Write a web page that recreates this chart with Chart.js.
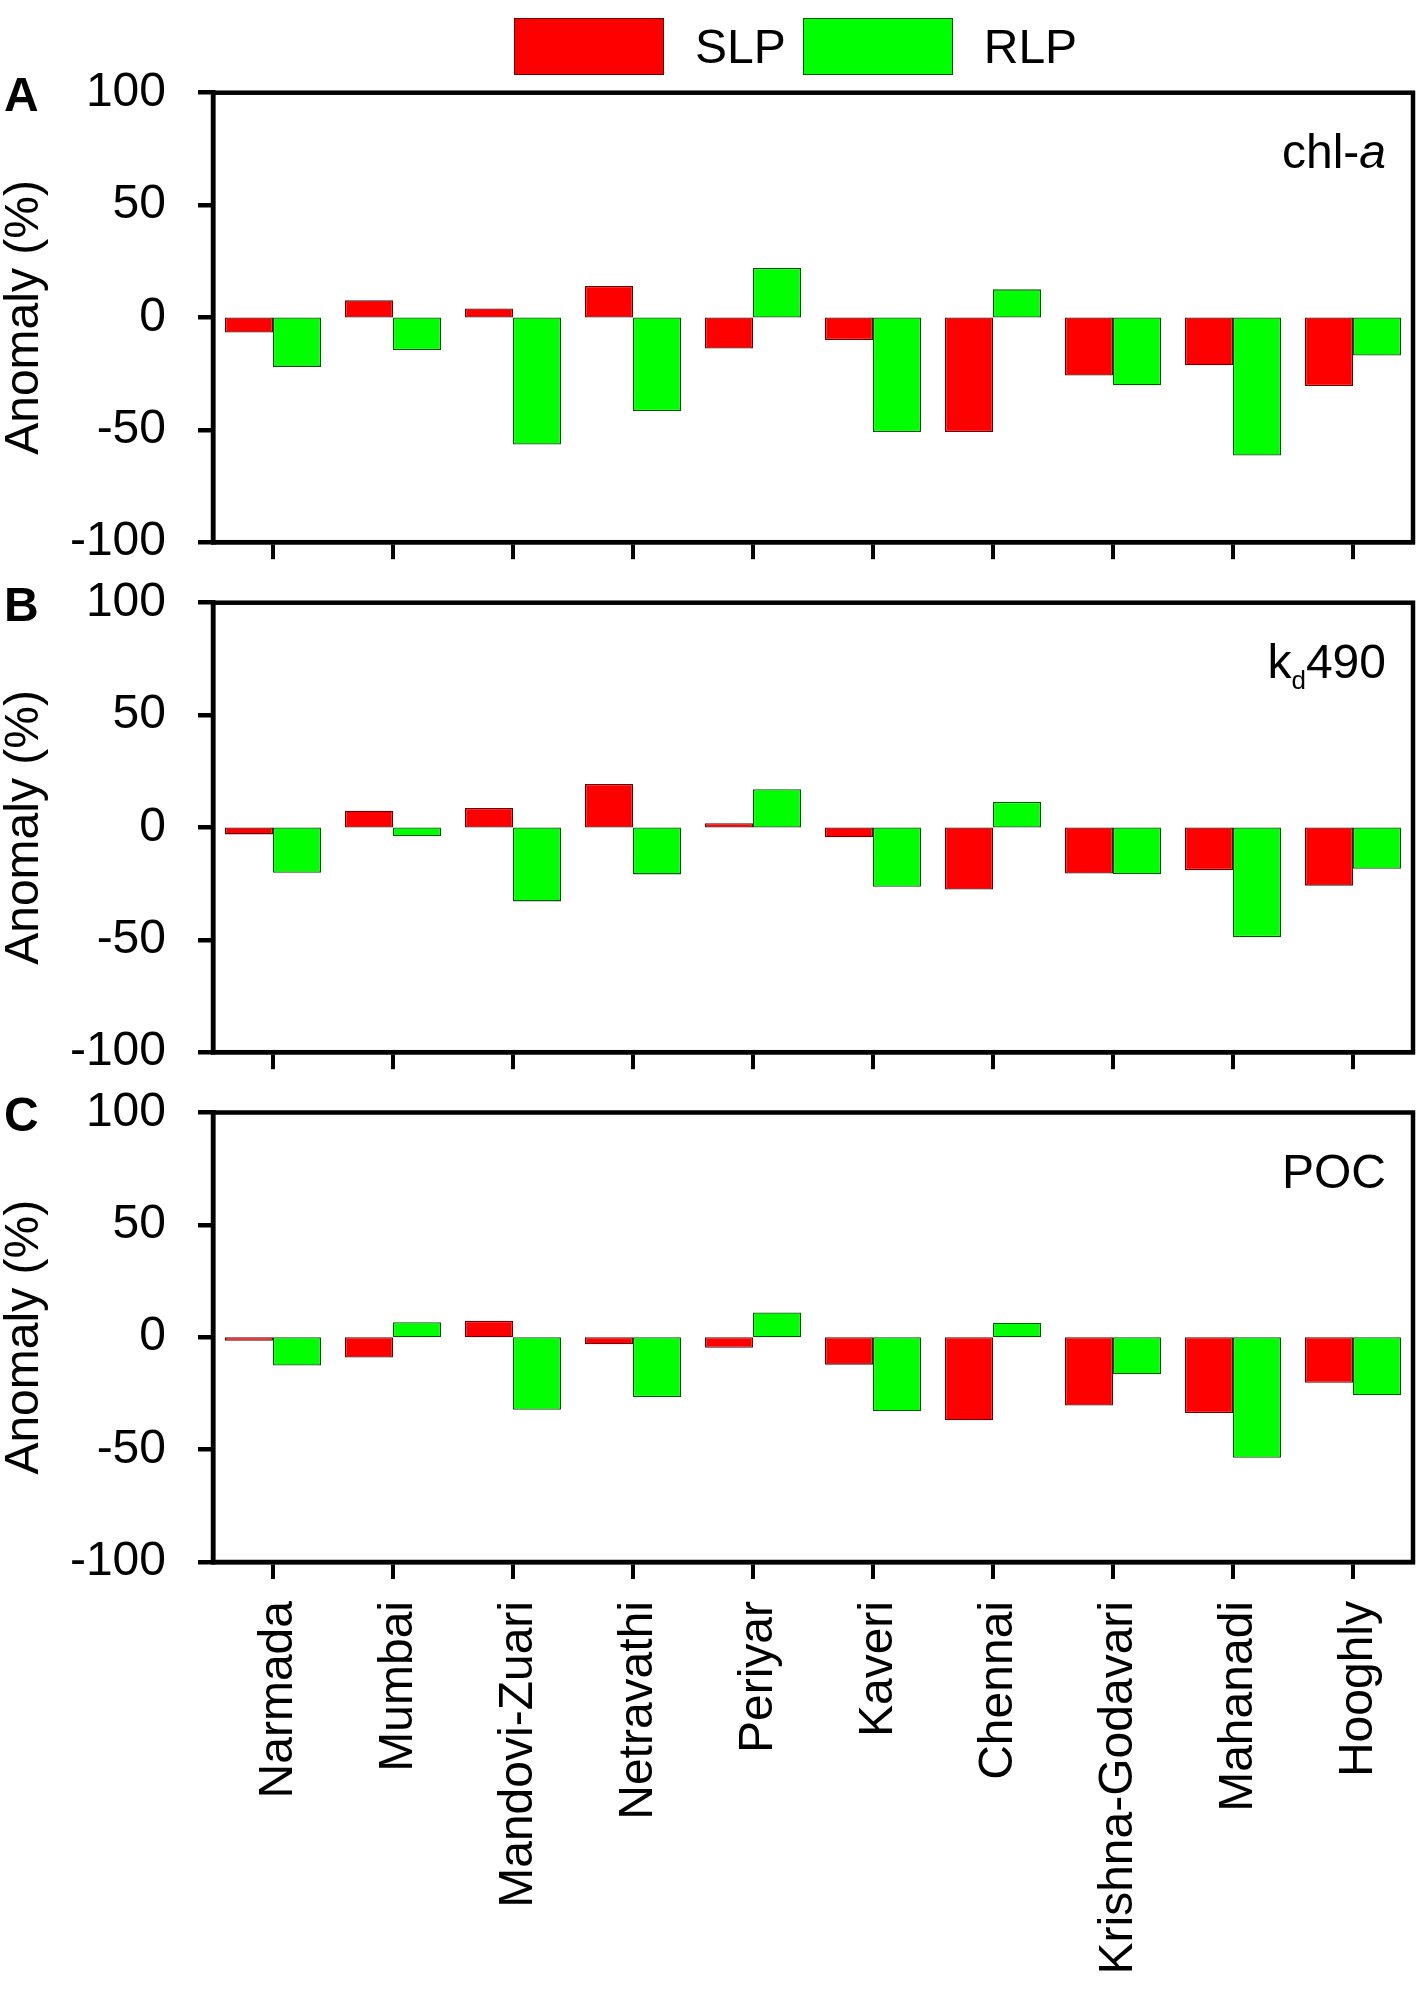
<!DOCTYPE html>
<html><head><meta charset="utf-8">
<script src="https://cdn.jsdelivr.net/npm/chart.js@4.4.1/dist/chart.umd.min.js"></script>
<style>
html,body{margin:0;padding:0;background:#fff;}
#wrap{position:relative;width:1422px;height:2005px;overflow:hidden;background:#fff;font-family:"Liberation Sans",Arial,sans-serif;}
canvas{position:absolute;left:0;}
#legend{position:absolute;left:514px;top:18px;display:flex;align-items:center;z-index:2;}
.item{display:flex;align-items:center;margin-right:17px;}
.box{display:block;width:150px;height:57px;box-sizing:border-box;border:1.5px solid;}
.lbl{margin-left:31px;font-size:48px;line-height:57px;color:#000;}
</style></head>
<body><div id="wrap">
<div id="legend"></div>
<canvas id="cA" width="1422" height="580" style="top:0px"></canvas>
<canvas id="cB" width="1422" height="520" style="top:560px"></canvas>
<canvas id="cC" width="1422" height="935" style="top:1070px"></canvas>
</div>
<script>
// ---- data ----
const categories = ['Narmada','Mumbai','Mandovi-Zuari','Netravathi','Periyar','Kaveri','Chennai','Krishna-Godavari','Mahanadi','Hooghly'];
const seriesNames = ['SLP','RLP'];
const chlSLP = [-6.7, 7.6, 4.0, 14.0, -13.8, -10.0, -51.0, -25.8, -21.3, -30.5];
const chlRLP = [-22.0, -14.5, -56.5, -41.7, 22.0, -51.0, 12.5, -30.2, -61.4, -16.9];
const kdSLP  = [-3.1, 7.4, 8.7, 19.3, 1.9, -4.4, -27.6, -20.5, -19.0, -25.9];
const kdRLP  = [-20.2, -3.9, -32.9, -20.9, 17.0, -26.4, 11.4, -20.8, -48.8, -18.4];
const pocSLP = [-1.6, -9.0, 7.3, -3.1, -4.7, -12.2, -36.9, -30.4, -33.7, -20.3];
const pocRLP = [-12.6, 6.7, -32.3, -26.6, 11.0, -32.9, 6.5, -16.5, -53.6, -25.8];
const yTickStep = 25;
const yMin = -100, yMax = 100;
const yAxisTitle = 'Anomaly (%)';

// ---- styles ----
const FONT = '"Liberation Sans", Arial, sans-serif';
Chart.defaults.font.family = FONT;
Chart.defaults.color = '#000';
const RED = '#ff0000', RED_B = '#6a0000';
const GREEN = '#00ff00', GREEN_B = '#005a00';
// baseline just off the 0 tick so Chart.js does not shift bar bases by half the tick-line width
const BAR_BASE = 1e-9;

const framePlugin = {
  id: 'frame',
  afterDatasetsDraw(chart) {
    const {ctx, chartArea: a} = chart;
    ctx.save();
    ctx.strokeStyle = '#000';
    ctx.lineWidth = 4.5;
    ctx.strokeRect(a.left, a.top, a.right - a.left, a.bottom - a.top);
    ctx.restore();
  }
};

const panelTextPlugin = {
  id: 'panelText',
  afterDraw(chart, args, opts) {
    const {ctx, chartArea: a} = chart;
    ctx.save();
    ctx.fillStyle = '#000';
    ctx.font = 'bold 48px ' + FONT;
    ctx.textAlign = 'left';
    ctx.textBaseline = 'alphabetic';
    ctx.fillText(opts.letter, 4, a.top + 18);
    let x = a.right - 27;
    const y = a.top + 75;
    ctx.textAlign = 'right';
    for (let i = opts.parts.length - 1; i >= 0; i--) {
      const p = opts.parts[i];
      ctx.font = p.font;
      ctx.fillText(p.text, x, y + (p.dy || 0));
      x -= ctx.measureText(p.text).width;
    }
    ctx.restore();
  }
};

const htmlLegendPlugin = {
  id: 'htmlLegend',
  afterUpdate(chart) {
    const el = document.getElementById('legend');
    el.innerHTML = '';
    const items = Chart.defaults.plugins.legend.labels.generateLabels(chart);
    items.forEach(it => {
      const d = document.createElement('div'); d.className = 'item';
      const b = document.createElement('span'); b.className = 'box';
      b.style.background = it.fillStyle; b.style.borderColor = it.strokeStyle;
      const t = document.createElement('span'); t.className = 'lbl'; t.textContent = it.text;
      d.append(b, t); el.append(d);
    });
  }
};

function makeChart(id, slp, rlp, o) {
  const plugins = [framePlugin, panelTextPlugin];
  if (o.htmlLegend) plugins.push(htmlLegendPlugin);
  return new Chart(document.getElementById(id), {
    type: 'bar',
    data: {
      labels: categories,
      datasets: [
        {label: seriesNames[0], data: slp, backgroundColor: RED, borderColor: RED_B, borderWidth: 1.3, borderSkipped: false, base: BAR_BASE},
        {label: seriesNames[1], data: rlp, backgroundColor: GREEN, borderColor: GREEN_B, borderWidth: 1.3, borderSkipped: false, base: BAR_BASE}
      ]
    },
    options: {
      responsive: false,
      animation: false,
      events: [],
      devicePixelRatio: 1,
      layout: {padding: {top: o.padTop, bottom: o.padBottom, left: 0, right: 9}},
      datasets: {bar: {categoryPercentage: 0.8, barPercentage: 1.0}},
      plugins: {
        legend: {display: false},
        tooltip: {enabled: false},
        panelText: {letter: o.letter, parts: o.parts}
      },
      scales: {
        x: {
          offset: true,
          grid: {display: true, drawOnChartArea: false, drawTicks: true, tickLength: 17, lineWidth: 4, color: '#000', offset: false},
          border: {display: true, width: 4.5, color: '#000'},
          ticks: {display: o.showLabels, minRotation: 90, maxRotation: 90, autoSkip: false, padding: 22, labelOffset: 6, color: '#000', font: {size: 48}},
          afterFit(s) { s.height = o.xH; s.paddingLeft = 0; s.paddingRight = 0; }
        },
        y: {
          min: yMin, max: yMax,
          ticks: {stepSize: yTickStep, padding: 32, color: '#000', font: {size: 48},
                  callback: v => (v % 50 === 0 ? String(v) : '')},
          grid: {drawOnChartArea: false, drawTicks: true, tickLength: 15, lineWidth: 4.5, color: '#000'},
          border: {display: true, width: 4.5, color: '#000'},
          title: {display: true, text: yAxisTitle, color: '#000', font: {size: 48}, padding: {top: -4, bottom: 0}},
          afterFit(s) { s.width = 213; s.paddingTop = 0; s.paddingBottom = 0; }
        }
      }
    },
    plugins
  });
}

const REG = '48px ' + FONT;
makeChart('cA', chlSLP, chlRLP, {
  padTop: 92.7, padBottom: 20.8, xH: 17, showLabels: false, htmlLegend: true, letter: 'A',
  parts: [{text: 'chl-', font: REG}, {text: 'a', font: 'italic ' + REG}]
});
makeChart('cB', kdSLP, kdRLP, {
  padTop: 42.7, padBottom: 10.8, xH: 17, showLabels: false, letter: 'B',
  parts: [{text: 'k', font: REG}, {text: 'd', font: '26px ' + FONT, dy: 11}, {text: '490', font: REG}]
});
makeChart('cC', pocSLP, pocRLP, {
  padTop: 42.5, padBottom: 0, xH: 443, showLabels: true, letter: 'C',
  parts: [{text: 'POC', font: REG}]
});
</script>
</body></html>
